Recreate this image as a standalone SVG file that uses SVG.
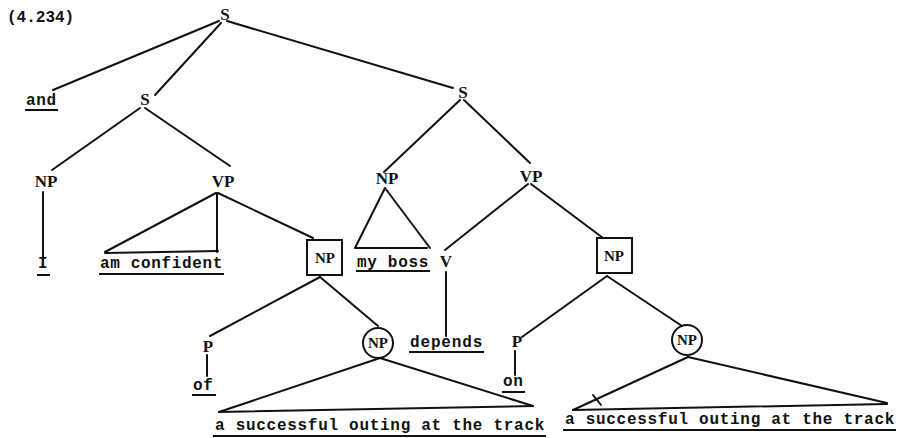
<svg xmlns="http://www.w3.org/2000/svg" width="909" height="438" viewBox="0 0 909 438">
<style>
.lbl{font-family:"Liberation Serif","Times New Roman",serif;font-weight:bold;font-size:17px;text-anchor:middle;fill:#111}
.clbl{font-family:"Liberation Serif","Times New Roman",serif;font-weight:bold;font-size:15px;text-anchor:middle;fill:#111}
.w{font-family:"Liberation Mono","Courier New",monospace;font-weight:bold;font-size:16px;fill:#111;letter-spacing:0.7px}
.ul{stroke:#111;stroke-width:2;fill:none}
.c{stroke:#111;stroke-width:2;fill:none;stroke-linecap:round}
.box{stroke:#111;stroke-width:2;fill:none}
</style>
<rect width="909" height="438" fill="#fff"/>
<g id="connectors">
<line class="c" x1="219" y1="21" x2="53" y2="90"/>
<line class="c" x1="221" y1="23" x2="155" y2="95"/>
<line class="c" x1="227" y1="21" x2="453" y2="88"/>
<line class="c" x1="140" y1="108" x2="52" y2="170"/>
<line class="c" x1="145" y1="108" x2="230" y2="166"/>
<line class="c" x1="43" y1="192" x2="43" y2="257"/>
<line class="c" x1="216" y1="193" x2="105" y2="252"/>
<line class="c" x1="217" y1="193" x2="217" y2="252"/>
<line class="c" x1="105" y1="253" x2="218" y2="251"/>
<line class="c" x1="218" y1="193" x2="313" y2="238"/>
<line class="c" x1="320" y1="277" x2="210" y2="336"/>
<line class="c" x1="320" y1="277" x2="378" y2="326"/>
<line class="c" x1="207" y1="355" x2="207" y2="376"/>
<line class="c" x1="380" y1="358" x2="219" y2="412"/>
<line class="c" x1="380" y1="358" x2="533" y2="406"/>
<line class="c" x1="219" y1="412" x2="533" y2="406"/>
<line class="c" x1="460" y1="100" x2="384" y2="172"/>
<line class="c" x1="464" y1="100" x2="530" y2="163"/>
<line class="c" x1="385" y1="188" x2="355" y2="248"/>
<line class="c" x1="385" y1="188" x2="430" y2="248"/>
<line class="c" x1="355" y1="248" x2="427" y2="248"/>
<line class="c" x1="528" y1="184" x2="445" y2="250"/>
<line class="c" x1="531" y1="184" x2="603" y2="238"/>
<line class="c" x1="446" y1="272" x2="446" y2="336"/>
<line class="c" x1="607" y1="276" x2="522" y2="337"/>
<line class="c" x1="607" y1="276" x2="682" y2="326"/>
<line class="c" x1="515" y1="351" x2="515" y2="375"/>
<line class="c" x1="688" y1="357" x2="573" y2="410"/>
<line class="c" x1="688" y1="357" x2="887" y2="403"/>
<line class="c" x1="573" y1="410" x2="887" y2="404"/>
<line class="c" x1="593" y1="395" x2="601" y2="405" stroke-width="3"/>
</g>
<g id="label-num"><text class="w" x="7" y="22" style="letter-spacing:0px">(4.234)</text></g>
<g id="S-top"><text class="lbl" x="225" y="20">S</text></g>
<g id="and"><text class="w" x="26" y="105">and</text><line class="ul" x1="25" y1="110" x2="58" y2="110"/></g>
<g id="S-left"><text class="lbl" x="145" y="105">S</text></g>
<g id="NP-left"><text class="lbl" x="46" y="187">NP</text></g>
<g id="I"><text class="w" x="38" y="268">I</text><line class="ul" x1="37" y1="275" x2="50" y2="275"/></g>
<g id="VP-left"><text class="lbl" x="223" y="187">VP</text></g>
<g id="am-confident"><text class="w" x="100" y="268" textLength="123" lengthAdjust="spacing">am confident</text><line class="ul" x1="99" y1="274" x2="224" y2="274"/></g>
<g id="NP-box-left"><rect class="box" x="307" y="240" width="35" height="35"/><text class="clbl" x="325" y="263">NP</text></g>
<g id="P-left"><text class="lbl" x="208" y="352">P</text></g>
<g id="of"><text class="w" x="193" y="390">of</text><line class="ul" x1="192" y1="395" x2="216" y2="395"/></g>
<g id="NP-circle-left"><circle class="box" cx="378" cy="343" r="15"/><text class="clbl" x="378" y="348" textLength="20" lengthAdjust="spacingAndGlyphs">NP</text></g>
<g id="phrase-left"><text class="w" x="215" y="430" textLength="330" lengthAdjust="spacing">a successful outing at the track</text><line class="ul" x1="213" y1="436" x2="546" y2="436"/></g>
<g id="S-right"><text class="lbl" x="463" y="98">S</text></g>
<g id="NP-right"><text class="lbl" x="387" y="184">NP</text></g>
<g id="my-boss"><text class="w" x="357" y="267" textLength="72" lengthAdjust="spacing">my boss</text><line class="ul" x1="356" y1="271" x2="430" y2="271"/></g>
<g id="VP-right"><text class="lbl" x="531" y="182">VP</text></g>
<g id="V"><text class="lbl" x="446" y="267">V</text></g>
<g id="depends"><text class="w" x="410" y="347" textLength="73" lengthAdjust="spacing">depends</text><line class="ul" x1="409" y1="352" x2="484" y2="352"/></g>
<g id="NP-box-right"><rect class="box" x="597" y="238" width="35" height="35"/><text class="clbl" x="614" y="261">NP</text></g>
<g id="P-right"><text class="lbl" x="517" y="347">P</text></g>
<g id="on"><text class="w" x="503" y="386">on</text><line class="ul" x1="502" y1="392" x2="525" y2="392"/></g>
<g id="NP-circle-right"><circle class="box" cx="687" cy="340" r="15"/><text class="clbl" x="687" y="345" textLength="20" lengthAdjust="spacingAndGlyphs">NP</text></g>
<g id="phrase-right"><text class="w" x="565" y="424" textLength="330" lengthAdjust="spacing">a successful outing at the track</text><line class="ul" x1="563" y1="430" x2="896" y2="430"/></g>
</svg>
